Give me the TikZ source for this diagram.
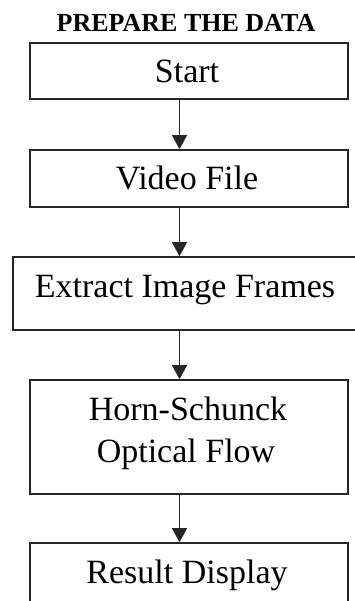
\documentclass[tikz,border=0pt]{standalone}
\usepackage{fontspec}
\setmainfont{Liberation Serif}
\usetikzlibrary{arrows.meta}
\begin{document}
\begin{tikzpicture}[x=1pt,y=-1pt,
  boxst/.style={draw=black!85, line width=1.6pt, rectangle, inner sep=0pt, fill=none},
  lbl/.style={anchor=base, inner sep=0pt, font=\fontsize{34}{40}\selectfont},
  ttl/.style={anchor=base, inner sep=0pt, font=\fontsize{26}{30}\selectfont\bfseries},
  arr/.style={draw=black!85, line width=1.3pt, -{Triangle[width=15pt,length=14pt]}}]
\useasboundingbox (0,0) rectangle (355,601);
\clip (0,0) rectangle (355,601);
\node[ttl] (title) at (186,32) {PREPARE THE DATA};
\node[boxst, minimum width=318pt, minimum height=56pt] (b1) at (189,71) {};
\node[boxst, minimum width=318pt, minimum height=57pt] (b2) at (189,178.5) {};
\node[boxst, minimum width=347pt, minimum height=73pt] (b3) at (186.5,293.5) {};
\node[boxst, minimum width=318pt, minimum height=114pt] (b4) at (189,437) {};
\node[boxst, minimum width=318pt, minimum height=72pt] (b5) at (189,579) {};
\node[lbl] (t1) at (187,83) {Start};
\node[lbl] (t2) at (187,190) {Video File};
\node[lbl] (t3) at (185,297) {Extract Image Frames};
\node[lbl] (t4a) at (188,420) {Horn-Schunck};
\node[lbl] (t4b) at (186,462) {Optical Flow};
\node[lbl] (t5) at (187,583) {Result Display};
\coordinate (ax) at (179.5,0);
\draw[arr] (b1.south -| ax) -- (b2.north -| ax);
\draw[arr] (b2.south -| ax) -- (b3.north -| ax);
\draw[arr] (b3.south -| ax) -- (b4.north -| ax);
\draw[arr] (b4.south -| ax) -- (b5.north -| ax);
\end{tikzpicture}
\end{document}
